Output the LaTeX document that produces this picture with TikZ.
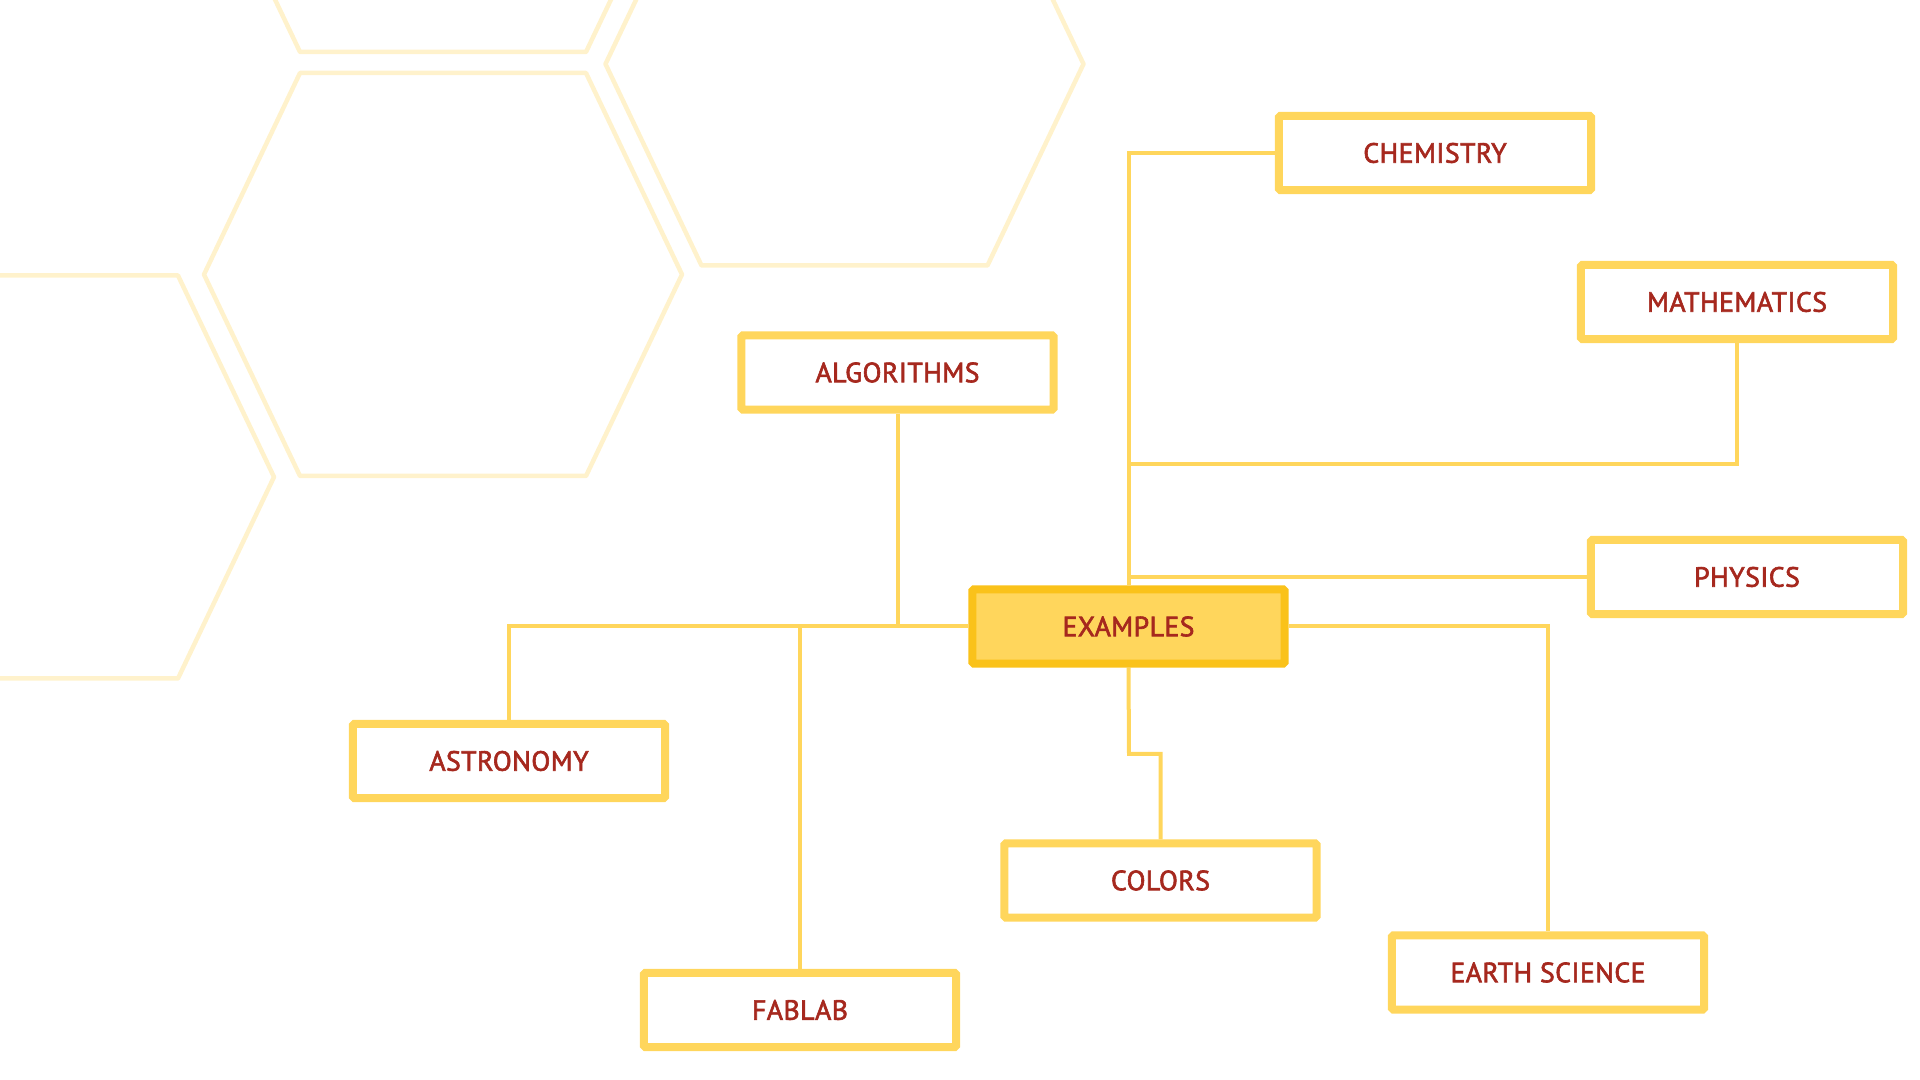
\documentclass[tikz,border=0pt]{standalone}
\usepackage{fontspec}
\newfontfamily\labfont{PT Sans}[FakeBold=2.2, LetterSpace=1.5]
\definecolor{boxy}{RGB}{255,214,92}
\definecolor{exbord}{RGB}{250,194,26}
\definecolor{txt}{RGB}{166,40,30}
\definecolor{hexc}{RGB}{255,242,204}
\pgfdeclarelayer{bg}
\pgfsetlayers{bg,main}
\tikzset{
  topic/.style={draw=boxy, line width=0.08cm, fill=white, minimum width=3.12cm,
    minimum height=0.74cm, inner sep=0pt, rounded corners=0.4pt, text=txt,
    font=\labfont\fontsize{7.9}{9}\selectfont},
  hub/.style={topic, fill=boxy, draw=exbord},
  link/.style={draw=boxy, line width=0.04cm},
  hexline/.style={draw=hexc, line width=0.045cm, line join=round},
}
\begin{document}
\begin{tikzpicture}[x=0.01cm,y=-0.01cm]
\useasboundingbox (0,0) rectangle (1920,1080);
\begin{scope}
  \clip (0,0) rectangle (1920,1080);
  \foreach \cx/\cy in {443/274.5, 844.5/64, 443/-149.5, 35/477}
    \draw[hexline] (\cx-239,\cy) -- (\cx-143,\cy-201.5) -- (\cx+143,\cy-201.5)
      -- (\cx+239,\cy) -- (\cx+143,\cy+201.5) -- (\cx-143,\cy+201.5) -- cycle;
\end{scope}

\node[hub]   (ex)  at (1128.5,626.5) {EXAMPLES};
\node[topic] (che) at (1435,153)     {CHEMISTRY};
\node[topic] (mat) at (1737,302)     {MATHEMATICS};
\node[topic] (alg) at (897.5,372.5)  {ALGORITHMS};
\node[topic] (phy) at (1747,577)     {PHYSICS};
\node[topic] (ast) at (509,761)      {ASTRONOMY};
\node[topic] (col) at (1160.5,880.5) {COLORS};
\node[topic] (fab) at (800,1010)     {FABLAB};
\node[topic] (ear) at (1548,972.5)   {EARTH SCIENCE};

\coordinate (jm) at (1129,464);
\coordinate (jc) at (1129,754);

\begin{pgfonlayer}{bg}
  \draw[link] (ex.north) |- (che.west);
  \draw[link] (mat.south) |- (jm);
  \draw[link] (phy.west) -- (phy.west -| ex.north);
  \draw[link] (alg.south) |- (ex.west);
  \draw[link] (ast.north) |- (ex.west);
  \draw[link] (fab.north) -- (fab.north |- ex.west);
  \draw[link] (ex.south) -- (jc) -| (col.north);
  \draw[link] (ex.east) -| (ear.north);
\end{pgfonlayer}
\end{tikzpicture}
\end{document}
